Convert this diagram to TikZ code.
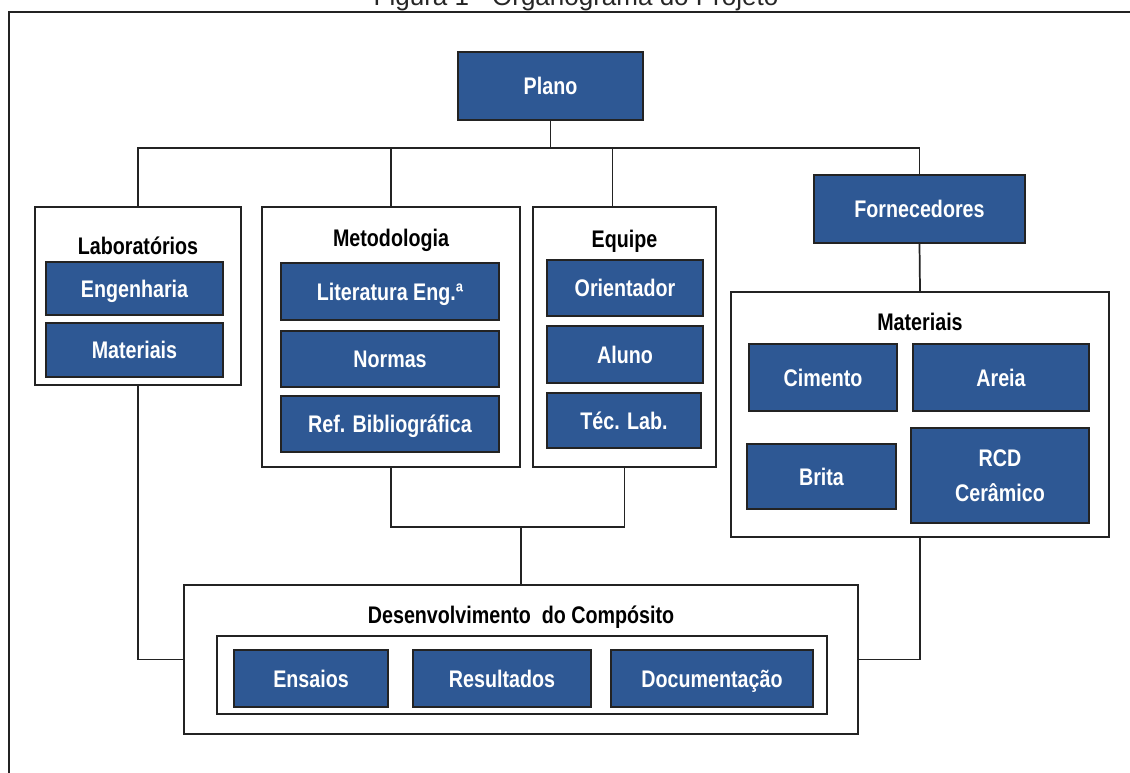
\documentclass[tikz,border=0pt]{standalone}
\usepackage{fontspec}
\setmainfont{Liberation Sans}
\newfontfamily\orgfont[FakeStretch=0.82]{Liberation Sans}
\usetikzlibrary{calc}
\definecolor{boxblue}{RGB}{46,88,148}
\definecolor{linegray}{RGB}{35,35,35}

\tikzset{
  sz/.style 2 args={minimum width=#1*0.75pt, minimum height=#2*0.75pt},
  bluebox/.style={draw=linegray, fill=boxblue, line width=1.4pt, text=white, inner sep=0pt,
    font=\orgfont\bfseries\fontsize{18}{22}\selectfont, text height=13pt, text depth=0pt},
  groupbox/.style={draw=linegray, fill=white, line width=1.3pt, inner sep=0pt},
  grouptitle/.style={anchor=base, inner sep=0pt, text=black,
    font=\orgfont\bfseries\fontsize{18}{22}\selectfont},
  link/.style={draw=linegray, line width=1.3pt}
}

\begin{document}
\begin{tikzpicture}[x=0.75pt, y=-0.75pt]
      \useasboundingbox (0,0) rectangle (1130,773);

      % frame and caption
      \draw [linegray, line width=1.4pt] (1140,12) -- (9,12) -- (9,790);
      \node [anchor=base, inner sep=0pt, text=black!85, font=\fontsize{19.5}{22}\selectfont,
      name=caption] at (576,6) {Figura 1 - Organograma do Projeto};

      % top level
      \node [bluebox, sz={185}{68}, name=plano] at (550.5,86) {Plano};
      \node [bluebox, sz={211}{68}, name=forn] at (919.5,209) {Fornecedores};

      % groups
      \node [groupbox, sz={206}{178}, name=lab] at (138,296) {};
      \node [grouptitle, name=labtitle] at (138,255) {Laboratórios};
      \node [bluebox, sz={177}{53}, name=eng] at (134.5,288.5) {Engenharia};
      \node [bluebox, sz={177}{54}, name=labmat] at (134.5,350) {Materiais};

      \node [groupbox, sz={258}{260}, name=met] at (391,337) {};
      \node [grouptitle, name=mettitle] at (391,247) {Metodologia};
      \node [bluebox, sz={218}{57}, name=lit] at (390,291.5) {Literatura Eng.ª};
      \node [bluebox, sz={218}{56}, name=normas] at (390,359) {Normas};
      \node [bluebox, sz={218}{56}, name=ref] at (390,424) {Ref. Bibliográfica};

      \node [groupbox, sz={183}{260}, name=eq] at (624.5,337) {};
      \node [grouptitle, name=eqtitle] at (624.5,248) {Equipe};
      \node [bluebox, sz={156}{56}, name=orient] at (625,288) {Orientador};
      \node [bluebox, sz={156}{57}, name=aluno] at (625,354.5) {Aluno};
      \node [bluebox, sz={154}{55}, name=tec] at (624,420.5) {Téc. Lab.};

      \node [groupbox, sz={378}{245}, name=mat] at (920,414.5) {};
      \node [grouptitle, name=mattitle] at (920,330) {Materiais};
      \node [bluebox, sz={148}{67}, name=cimento] at (823,377.5) {Cimento};
      \node [bluebox, sz={176}{67}, name=areia] at (1001,377.5) {Areia};
      \node [bluebox, sz={149}{65}, name=brita] at (821.5,476.5) {Brita};
      \node [bluebox, sz={178}{95}, text height=, text depth=, align=center,
      name=rcd] at (1000,475.5) {RCD\\[4pt]Cerâmico};

      \node [groupbox, sz={674}{149}, name=dev] at (521,659.5) {};
      \node [grouptitle, name=devtitle] at (521,623) {Desenvolvimento\ \ do Compósito};
      \node [groupbox, sz={610}{78}, name=devin] at (522,675) {};
      \node [bluebox, sz={154}{57}, name=ensaios] at (311,678.5) {Ensaios};
      \node [bluebox, sz={178}{57}, name=result] at (502,678.5) {Resultados};
      \node [bluebox, sz={202}{57}, name=doc] at (712,678.5) {Documentação};

      % connectors
      \coordinate (bus) at (0,148);
      \coordinate (join) at (0,527);
      \coordinate (eqtop) at ($(eq.north)+(-12,0)$);

      \draw [link] (plano.south) -- (plano.south |- bus);
      \draw [link] (lab.north) -- (lab.north |- bus) -- (forn.north |- bus) -- (forn.north);
      \draw [link] (met.north) -- (met.north |- bus);
      \draw [link] (eqtop) -- (eqtop |- bus);
      \draw [link] (forn.south) -- (mat.north);

      \draw [link] (met.south) -- (met.south |- join) -- (eq.south |- join) -- (eq.south);
      \draw [link] (dev.north |- join) -- (dev.north);
      \draw [link] (lab.south) |- (dev.west);
      \draw [link] (mat.south) |- (dev.east);
\end{tikzpicture}
\end{document}
